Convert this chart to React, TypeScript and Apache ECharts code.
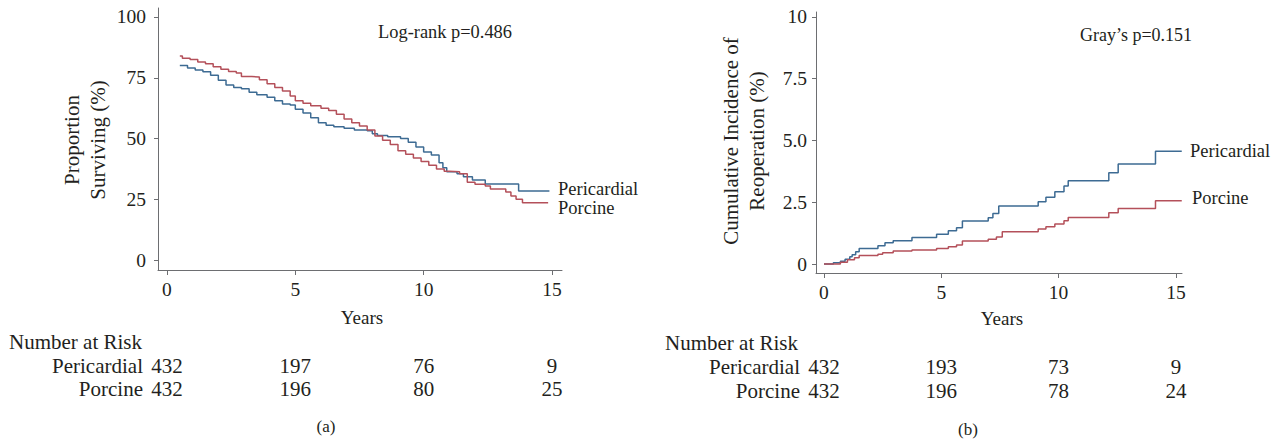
import React, { useEffect, useRef } from "react";
import * as echarts from "echarts";

// ---------- data ----------
const survPericardial: [number, number][] = [
  [0.5, 80], [0.8, 79], [1.1, 78.2], [1.4, 77.5], [1.7, 76], [2.0, 74], [2.3, 72], [2.6, 71],
  [2.9, 70.5], [3.2, 69], [3.5, 68], [3.9, 67], [4.2, 65.5], [4.5, 64.2], [4.8, 63.8], [5.0, 62],
  [5.3, 60.5], [5.6, 58.5], [5.9, 56.5], [6.2, 55.5], [6.5, 54.8], [6.9, 54.2], [7.3, 53.5],
  [7.8, 53.2], [8.0, 52], [8.2, 51.2], [8.6, 50.7], [9.1, 50], [9.4, 48.5], [9.7, 46.5],
  [10.0, 44.5], [10.3, 43.2], [10.6, 40], [10.75, 38], [10.9, 36.3], [11.3, 35.5], [11.55, 34.3],
  [11.9, 32.9], [12.4, 31.3], [13.6, 31.3], [13.7, 28.4], [14.9, 28.4],
];
const survPorcine: [number, number][] = [
  [0.5, 84], [0.6, 83], [0.9, 82.5], [1.2, 81.5], [1.5, 80.8], [1.8, 79.5], [2.1, 78.5],
  [2.4, 77.6], [2.7, 77], [2.9, 75.5], [3.3, 75.3], [3.6, 74.2], [3.9, 72.5], [4.2, 71],
  [4.5, 69.5], [4.8, 67.5], [5.0, 65.5], [5.3, 64.5], [5.6, 63.5], [6.0, 62.5], [6.3, 61.5],
  [6.6, 60], [6.9, 58], [7.2, 56.5], [7.5, 55.2], [7.8, 53.5], [8.1, 51], [8.4, 49.3],
  [8.7, 47.5], [9.0, 45], [9.3, 43.5], [9.6, 42], [9.9, 40.5], [10.2, 39], [10.5, 37.5],
  [10.8, 36.5], [11.0, 36.3], [11.4, 35.5], [11.7, 32], [12.0, 31.2], [12.4, 30.5], [12.6, 29.2],
  [13.2, 28], [13.4, 26.3], [13.6, 25], [13.85, 23.6], [14.85, 23.6],
];
const reopPericardial: [number, number][] = [
  [0, 0], [0.4, 0.05], [0.7, 0.12], [0.9, 0.2], [1.1, 0.3], [1.2, 0.38], [1.35, 0.5], [1.5, 0.63],
  [2.3, 0.74], [2.6, 0.86], [2.95, 0.94], [3.75, 1.08], [4.8, 1.21], [5.3, 1.35], [5.65, 1.47],
  [5.9, 1.74], [7.0, 1.88], [7.2, 2.05], [7.45, 2.35], [9.13, 2.52], [9.46, 2.7], [9.84, 2.93],
  [10.23, 3.16], [10.41, 3.37], [12.14, 3.7], [12.54, 4.05], [14.13, 4.57], [15.25, 4.57],
];
const reopPorcine: [number, number][] = [
  [0, 0], [0.7, 0.08], [1.0, 0.18], [1.3, 0.26], [1.5, 0.35], [2.3, 0.4], [2.5, 0.46],
  [2.95, 0.53], [3.75, 0.57], [4.8, 0.63], [5.3, 0.7], [5.65, 0.77], [5.9, 0.93], [7.0, 1.01],
  [7.35, 1.1], [7.6, 1.31], [9.13, 1.42], [9.46, 1.51], [9.84, 1.62], [10.23, 1.75],
  [10.41, 1.89], [12.14, 2.08], [12.54, 2.25], [14.13, 2.56], [15.25, 2.56],
];
const yearTicks = [0, 5, 10, 15];
const survTicks = [0, 25, 50, 75, 100];
const reopTicks = [0, 2.5, 5, 7.5, 10];
const riskSurvPericardial = [432, 197, 76, 9];
const riskSurvPorcine = [432, 196, 80, 25];
const riskReopPericardial = [432, 193, 73, 9];
const riskReopPorcine = [432, 196, 78, 24];

// ---------- styles ----------
const FONT = '"Liberation Serif", "Times New Roman", serif';
const TXT = "#231f20";
const AXIS = "#6d6e71";
const BLUE = "#3d6b93";
const RED = "#b4505a";

const txt = (text: string, x: number, y: number, size: number, align = "center", extra: any = {}) => ({
  type: "text",
  x,
  y,
  silent: true,
  ...extra,
  style: {
    text,
    font: `${size}px ${FONT}`,
    fill: TXT,
    textAlign: align,
    textVerticalAlign: "middle",
    ...(extra.style || {}),
  },
});

function axisX(gridIndex: number, min: number, max: number, margin: number) {
  return {
    type: "value",
    gridIndex,
    min,
    max,
    axisLine: { onZero: false, lineStyle: { color: AXIS, width: 1 } },
    axisTick: { customValues: yearTicks, length: 5, lineStyle: { color: AXIS } },
    axisLabel: { customValues: yearTicks, fontSize: 19.5, fontFamily: FONT, color: TXT, margin },
    splitLine: { show: false },
  };
}
function axisY(gridIndex: number, min: number, max: number, ticks: number[], fmt: (v: number) => string, margin: number) {
  return {
    type: "value",
    gridIndex,
    min,
    max,
    axisLine: { show: true, onZero: false, lineStyle: { color: AXIS, width: 1 } },
    axisTick: { show: true, customValues: ticks, length: 4, lineStyle: { color: AXIS } },
    axisLabel: { customValues: ticks, fontSize: 19.5, fontFamily: FONT, color: TXT, margin, formatter: fmt },
    splitLine: { show: false },
  };
}
const line = (data: [number, number][], color: string, xi: number) => ({
  type: "line",
  step: "end",
  xAxisIndex: xi,
  yAxisIndex: xi,
  data,
  showSymbol: false,
  symbol: "none",
  lineStyle: { color, width: 1.5 },
  silent: true,
});

export default function App() {
  const ref = useRef<HTMLDivElement>(null);
  useEffect(() => {
    document.body.style.margin = "0";
    const chart = echarts.init(ref.current!, null, { renderer: "svg" });
    chart.setOption({
      animation: false,
      grid: [
        { left: 158, top: 8, width: 404, height: 262 },
        { left: 816, top: 12, width: 366, height: 261 },
      ],
      xAxis: [axisX(0, -0.35, 15.39, 9), axisX(1, -0.34, 15.26, 9)],
      yAxis: [
        axisY(0, -4.1, 103.7, survTicks, (v) => String(v), 12),
        axisY(1, -0.36, 10.2, reopTicks, (v) => (v === 0 || v === 10 ? String(v) : v.toFixed(1)), 9),
      ],
      series: [
        line(survPericardial, BLUE, 0),
        line(survPorcine, RED, 0),
        line(reopPericardial, BLUE, 1),
        line(reopPorcine, RED, 1),
      ],
    });

    const px0 = (t: number) => chart.convertToPixel({ xAxisIndex: 0 }, t) as number;
    const px1 = (t: number) => chart.convertToPixel({ xAxisIndex: 1 }, t) as number;
    const g: any[] = [];
    const TS = 21; // table text size
    const rows = { years: 317, nar: 342, peri: 366, porc: 389, cap: 426 };
    // left panel
    g.push(txt("Proportion\nSurviving (%)", 85, 140, 21, "center", { rotation: Math.PI / 2, style: { lineHeight: 26 } }));
    g.push(txt("Log-rank p=0.486", 445, 32, 18.4));
    g.push(txt("Pericardial", 558, 189, 18.5, "left"));
    g.push(txt("Porcine", 558, 208, 18.5, "left"));
    g.push(txt("Years", 362, rows.years, 19));
    g.push(txt("Number at Risk", 9, rows.nar, TS, "left"));
    g.push(txt("Pericardial", 143, rows.peri, TS, "right"));
    g.push(txt("Porcine", 143, rows.porc, TS, "right"));
    yearTicks.forEach((t, i) => {
      g.push(txt(String(riskSurvPericardial[i]), px0(t), rows.peri, TS));
      g.push(txt(String(riskSurvPorcine[i]), px0(t), rows.porc, TS));
    });
    g.push(txt("(a)", 326, rows.cap, 17));
    // right panel
    g.push(txt("Cumulative Incidence of\nReoperation (%)", 744, 141, 21, "center", { rotation: Math.PI / 2, style: { lineHeight: 26 } }));
    g.push(txt("Gray\u2019s p=0.151", 1136, 35, 18));
    g.push(txt("Pericardial", 1190, 151, 18.5, "left"));
    g.push(txt("Porcine", 1192, 198, 18.5, "left"));
    g.push(txt("Years", 1002, rows.years + 1, 19));
    g.push(txt("Number at Risk", 665, rows.nar + 1, TS, "left"));
    g.push(txt("Pericardial", 800, rows.peri + 1, TS, "right"));
    g.push(txt("Porcine", 800, rows.porc + 2, TS, "right"));
    yearTicks.forEach((t, i) => {
      g.push(txt(String(riskReopPericardial[i]), px1(t), rows.peri + 1, TS));
      g.push(txt(String(riskReopPorcine[i]), px1(t), rows.porc + 2, TS));
    });
    g.push(txt("(b)", 968, rows.cap + 3, 17));
    chart.setOption({ graphic: g });
    return () => chart.dispose();
  }, []);
  return <div ref={ref} style={{ width: 1278, height: 447 }} />;
}
